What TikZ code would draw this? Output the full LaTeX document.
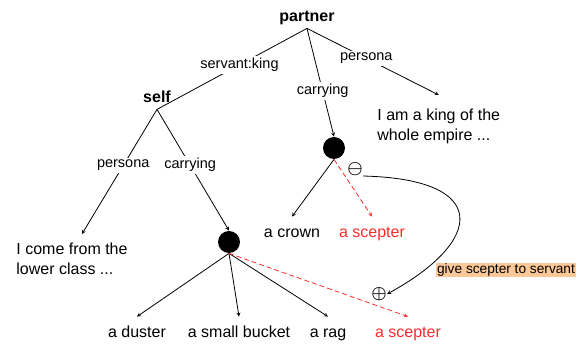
\documentclass[tikz,border=0pt]{standalone}
\usepackage{fontspec}
\setmainfont{Liberation Sans}
\usepackage{amsmath}
\usepackage{amssymb}
\usepackage{tikz}
\usetikzlibrary{calc}
\usetikzlibrary{shapes,arrows}
\definecolor{scepterred}{RGB}{250,45,45}
\definecolor{giveorange}{RGB}{251,200,152}

\begin{document}
\begin{tikzpicture}[x=1pt, y=-1pt, line width=0.8pt, >=stealth,
        role/.style={font=\bfseries\fontsize{16}{19}\selectfont, text depth=0pt, inner sep=6pt, anchor=base},
        feat/.style={font=\fontsize{14.5}{17}\selectfont, fill=white, inner sep=2pt},
        word/.style={font=\fontsize{16}{19}\selectfont, text height=12pt, text depth=4pt, inner sep=9pt, anchor=base},
        utter/.style={font=\fontsize{16}{19.5}\selectfont, align=left, inner sep=9pt, anchor=north west},
        ball/.style={circle, fill=black, minimum size=22pt, inner sep=0pt},
        sign/.style={font=\fontsize{19}{22}\selectfont, inner sep=0pt}]
        \useasboundingbox (0,0) rectangle (582,344);

        % Nodes
        \draw (307,22)  node(partner) [role] {partner};
        \draw (157,103) node(self)    [role] {self};
        \draw (334,148) node(ball1)   [ball] {};
        \draw (229,242) node(ball2)   [ball] {};
        \draw (368,100) node(king)    [utter] {I am a king of the\\whole empire ...};
        \draw (7,234)   node(lower)   [utter] {I come from the\\lower class ...};
        \draw (292,238) node(crown)   [word] {a crown};
        \draw (372,238) node(scepter1) [word, text=scepterred] {a scepter};
        \draw (137,338) node(duster)  [word] {a duster};
        \draw (239,338) node(bucket)  [word] {a small bucket};
        \draw (328,338) node(rag)     [word] {a rag};
        \draw (408,338) node(scepter2) [word, text=scepterred] {a scepter};
        \draw (355,169) node(minus)   [sign] {\(\boldsymbol{\ominus}\)};
        \draw (379,294) node(plus)    [sign] {\(\boldsymbol{\oplus}\)};
        \draw (506,270) node(give)    [fill=giveorange, inner sep=1pt, text height=9.5pt, text depth=2.8pt,
                                       font=\fontsize{13.7}{16}\selectfont] {give scepter to servant};

        % Edges
        \draw (partner.south) -- node[feat, pos=0.45] {servant:king} (self.south);
        \draw[->] (partner.south) -- node[feat, pos=0.58] {carrying} (ball1.north);
        \draw[->] (partner.south) -- node[feat, pos=0.45] {persona} ([yshift=5pt]king.north);
        \draw[->] (self.south) -- node[feat, pos=0.45] {persona} ([xshift=10pt]lower.north);
        \draw[->] (self.south) -- node[feat, pos=0.46] {carrying} (ball2.north);

        \draw[->] (ball1.south) -- (crown.north);
        \draw[->, scepterred, dash pattern=on 5pt off 3pt] (ball1.south) -- (scepter1.north);
        \draw[->] (ball2.south) -- (duster.north);
        \draw[->] (ball2.south) -- (bucket.north);
        \draw[->] (ball2.south) -- (rag.north);
        \draw[->, scepterred, dash pattern=on 5pt off 3pt] (ball2.south) -- (scepter2.north);

        \draw[->] (minus.south east) .. controls +(128,3) and +(97,-53) .. (plus.east);

\end{tikzpicture}
\end{document}
